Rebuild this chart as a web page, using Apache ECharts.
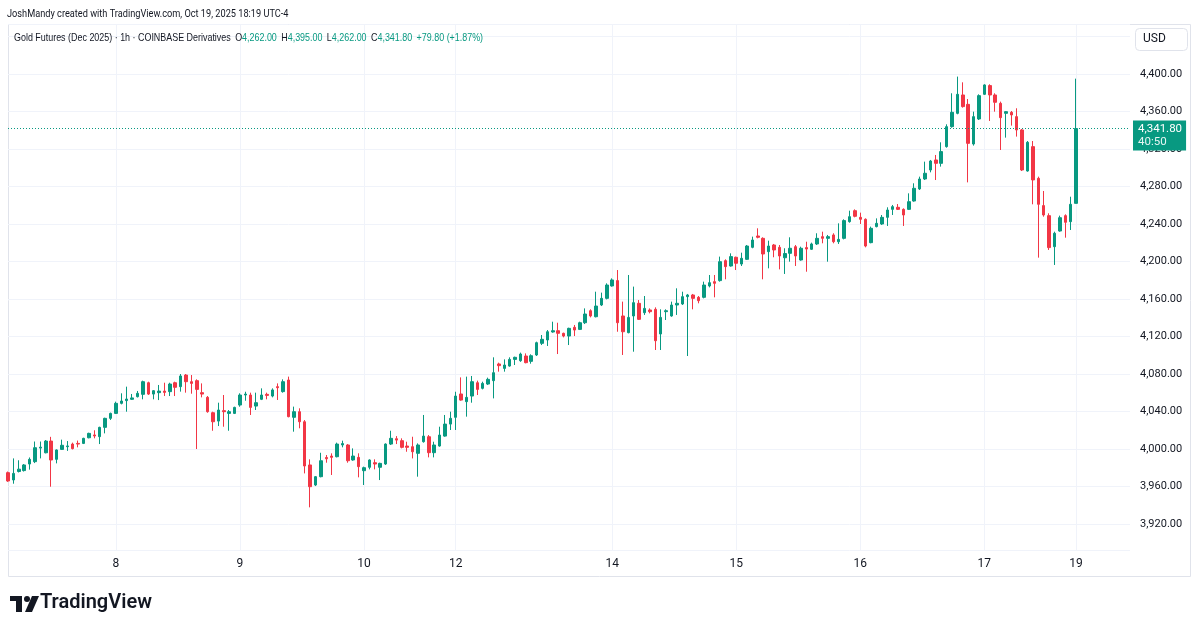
<!DOCTYPE html>
<html><head><meta charset="utf-8">
<script src="https://cdn.jsdelivr.net/npm/echarts@6/dist/echarts.min.js"></script>
<style>html,body{margin:0;padding:0;background:#fff}#c{width:1200px;height:630px}</style>
</head><body><div id="c"></div>
<script>
// ---- data (hourly OHLC, Gold Futures Dec 2025) ----
const opens = [3974.8,3967,3976,3977,3984,3986.5,4001,3996,4008.5,3989,3999.6,4002.5,4005.3,4006,4006,4012,4015,4013.2,4023.1,4032.7,
4038,4048.7,4051.6,4053,4055.8,4058.3,4070.7,4058.6,4060.1,4061.8,4061.2,4070.7,4066.5,4078.9,4071.8,4072.9,4060.1,4055.1,4038.7,4029.8,
4040.9,4038,4038,4046.9,4057.6,4057.6,4045.8,4053,4058.3,4056.5,4066.5,4061.2,4073.6,4033.8,4039.8,4029.1,3983,3961.6,3970.5,3991,
3992.5,3991.8,4004.3,4004.3,3988.3,3991.1,3976.9,3980.5,3985.4,3980.5,3984,4005.3,4011,4008.9,4003.2,4002.5,3995.4,4007.8,4013.1,3996.1,
4003.2,4013.8,4026.6,4033.8,4058.7,4050.5,4056.5,4070.7,4064.7,4069.3,4072.9,4090.7,4086,4088.5,4095.6,4094.2,4099.2,4093.5,4100.3,4112.7,
4116.3,4124.8,4126.2,4123.4,4120.5,4129.8,4127.6,4134.7,4147.5,4141.1,4153.6,4160.7,4173.9,4179.6,4141.9,4124.1,4141.9,4155.4,4145.4,4148.3,
4149,4122.7,4146.5,4141.9,4153.6,4154.7,4162.5,4164.3,4161.8,4161.8,4173.9,4178.5,4179.6,4200.9,4195.2,4204.5,4197.3,4202.3,4215.1,4227.2,
4224.7,4210.5,4217.6,4215.1,4204,4208.7,4215.8,4201.6,4214.8,4213,4218.7,4226.5,4224.7,4228.3,4221.1,4224.7,4242.5,4254.2,4247.1,4245,
4220.1,4237.2,4240,4247.1,4255.6,4257.8,4255.6,4255.6,4264.5,4277.4,4288,4297.6,4308.3,4304.7,4322.5,4343.8,4358,4377.6,4367.6,4325.3,
4352,4378.3,4387.6,4377.6,4368.7,4358,4359.1,4354.5,4340.3,4296.5,4322.5,4288.7,4259.6,4248.9,4215.8,4232.5,4248.9,4242.5,4262];
const highs = [3976,3990,3988,3984,3991,4008,4008,4009.6,4013,3999.6,4010,4008.5,4006.8,4009,4012,4017.4,4020,4023.8,4033.4,4038.8,
4050.5,4059.4,4066.5,4058.7,4061.9,4072.9,4071.8,4062.9,4068.3,4070.7,4070.7,4071.8,4080,4080,4078.9,4074.3,4070,4056.5,4039.8,4049.4,
4057.6,4041.6,4045.1,4059.4,4061.1,4060.1,4060.1,4064.7,4060.1,4064.7,4070,4074.3,4077.2,4045.2,4043.4,4030.9,3989,3971.2,3996,3993.6,
3995.4,4006.8,4008.9,4005.3,4000.7,3995.4,3981.2,3989,3989,3985.4,4006,4019.5,4013.8,4011.4,4007.8,4013.1,4006,4036.3,4014.9,4007.8,
4023.8,4036.3,4039.8,4061.1,4076.4,4077.2,4077.9,4072.9,4071.8,4076.1,4097.8,4092.1,4095.6,4097.8,4098.5,4102.8,4102,4101,4114.5,4121.6,
4126.9,4135.8,4134.7,4124.1,4129.4,4132.3,4135.8,4150,4149,4167.8,4166.8,4176.7,4182,4190.9,4157.2,4185.6,4173.2,4158.9,4163.2,4150,
4151.1,4149,4149,4157.2,4171.4,4167.8,4165.4,4165.4,4163.2,4178.5,4185.6,4185.6,4205.2,4202.3,4208.7,4205.2,4209.4,4217.6,4226.5,4235.4,
4225.8,4222.2,4218.7,4217.6,4214.1,4225.8,4217.6,4215.8,4221.1,4220.1,4230.1,4231.8,4228.3,4230.1,4240.7,4245,4254.2,4255.6,4252.1,4246,
4237.2,4246,4249.6,4257.8,4260.3,4261.3,4256.7,4272.7,4283.4,4290.5,4306.5,4308.3,4313.6,4327.1,4346.3,4379.4,4397.2,4391.1,4373.3,4359.8,
4378.3,4389,4389,4379.4,4370.5,4360.5,4360.5,4363.4,4341.3,4328.5,4328.5,4290.5,4275.2,4251.4,4231.8,4248.9,4250.3,4269.1,4395];
const lows = [3965,3963,3975,3976,3978,3985,3990,3995.4,3959.8,3984.7,3999,3998,3999.6,4001.8,4005.3,4011.4,4011.4,4005.3,4016.7,4031,
4037.3,4047.6,4039.8,4052.3,4055,4053,4057.6,4053,4052.2,4056.5,4056.5,4056.5,4061.2,4060.1,4059,4000,4055.1,4038.7,4019.5,4024.5,
4023.8,4019.5,4037.3,4045.1,4051.5,4036.3,4041.6,4052.2,4053,4055.1,4052.3,4060.1,4033.8,4018.5,4022.1,3974,3937.8,3960.5,3969.8,3985.4,
3972.3,3991.1,4001.8,3985.4,3987.5,3969.8,3961.6,3978.3,3978.3,3966.9,3983,4004.3,4005.3,4000.7,3997.1,3990,3970.5,4006.8,3991.1,3991.1,
4002.5,4013.1,4020.3,4020.3,4051.5,4034.5,4049.4,4057.6,4063.6,4068.3,4054,4082.5,4082.5,4087.8,4089.6,4093,4091.4,4091,4099.2,4110.9,
4109.9,4124.1,4101.3,4119.1,4110.9,4120.5,4126.9,4133.3,4140.4,4140.4,4152.5,4159.6,4173.2,4125.1,4100.3,4123.4,4103.8,4137.6,4143,4144.7,
4105.6,4105.6,4137.6,4141.1,4143,4153.6,4099.2,4149,4155.4,4160.7,4172.4,4161.8,4178.5,4181,4194.5,4190.9,4195.2,4201.6,4214.1,4224.7,
4181,4192.7,4204.5,4191.6,4186.7,4199.8,4195.2,4200.9,4189.1,4212.3,4217.6,4219.4,4199.8,4219.4,4218.7,4223.6,4241.4,4247.1,4240,4215.1,
4219.4,4236.4,4239,4237.9,4249.6,4254.9,4237.9,4254.9,4263.8,4276.3,4286.9,4295.1,4286.9,4301.2,4321.4,4342.7,4357,4364.1,4284.4,4323.6,
4350.9,4377.6,4349.9,4359.8,4318.9,4332.1,4344.9,4333.2,4296.5,4295.8,4261,4204.1,4247.8,4212.3,4196.3,4231.8,4225.4,4233.6,4262];
const closes = [3965.9,3974,3978.5,3983,3989,4001.4,4002,4008.5,3988.3,3999,4004,4003.3,4000.4,4005.3,4011.4,4016.7,4013.9,4023.1,4032.7,4038,
4048.7,4051.2,4053.3,4054.5,4059.4,4071.8,4058.6,4062.2,4061.8,4060.4,4069.3,4065.8,4077.9,4071.8,4070,4063.6,4058.6,4039.8,4029.1,4041.6,
4039.8,4039.8,4044.4,4057.6,4058.6,4044.4,4049.4,4057.6,4057.2,4063,4065.4,4071.8,4034.5,4039.8,4029.1,3981.9,3959.8,3970.5,3987.5,3989.6,
3991.1,4005.3,4005.8,3987.5,3992.5,3981.2,3980.1,3988.3,3984,3984.7,4005.3,4011.4,4009.5,4001.8,4001.8,3997.1,4004.3,4013.8,3996.1,4004.3,
4014.9,4026.6,4032.7,4056.5,4052.2,4055.1,4071.8,4063.6,4070,4074.3,4081.4,4088.9,4089.6,4095.6,4097.8,4101.3,4092.1,4099.5,4113.4,4117,
4125.1,4126.2,4123.4,4120.5,4128.7,4126.9,4134.7,4144,4141.9,4152.5,4160.7,4174.9,4180.3,4134.7,4125.1,4140.4,4156.1,4138.3,4150,4146.5,
4115.5,4140.4,4147.5,4153.6,4155.4,4162.5,4164.3,4160.7,4158.2,4174.9,4177.4,4176.7,4199.8,4194.5,4205.2,4198.1,4203.4,4216.5,4222.9,4225.8,
4208,4216.5,4212.3,4205.9,4208.5,4214.1,4205.9,4214.1,4213.3,4218.7,4224.7,4224.7,4226.5,4221.1,4223.6,4243.6,4247.8,4248.2,4245,4216.5,
4235.4,4240.7,4247.1,4254.9,4258.5,4255.6,4249.6,4263.8,4278.1,4288,4294.1,4307.2,4304.7,4317.2,4343.8,4359.1,4378.3,4365.2,4326,4354.5,
4376.9,4388.3,4377.6,4369.8,4353.4,4359.8,4356.3,4340.3,4297.6,4327.1,4287,4261,4249.6,4214.8,4230.1,4246.7,4241.8,4261,4341.8];

// time-axis ticks (day labels) and price-axis range
const tickTimes  = ['10/8 00:00','10/9 00:00','10/10 00:00','10/12 18:00','10/14 00:00','10/15 00:00','10/16 00:00','10/17 00:00','10/19 18:00'];
const tickLabels = ['8','9','10','12','14','15','16','17','19'];
const priceMin = 3892.3, priceMax = 4453.3, priceStep = 40;
const rightPadBars = 10;
const countdown = '40:50';

const UP = '#089981', DOWN = '#F23645', TXT = '#131722', GRID = '#f0f3fa';

// hourly session bars: closed 17:00-18:00 daily, Fri 17:00 -> Sun 18:00
function buildTimes(n) {
  const out = [];
  let t = Date.UTC(2025, 9, 7, 3);
  while (out.length < n) {
    const d = new Date(t), dow = d.getUTCDay(), h = d.getUTCHours();
    const closed = h === 17 || (dow === 5 && h > 17) || dow === 6 || (dow === 0 && h < 18);
    if (!closed) out.push((d.getUTCMonth() + 1) + '/' + d.getUTCDate() + ' ' + String(h).padStart(2, '0') + ':00');
    t += 3600e3;
  }
  return out;
}
const categories = buildTimes(opens.length + rightPadBars);
const candles = opens.map((o, i) => [o, closes[i], lows[i], highs[i]]);
const isTick = (idx) => tickTimes.indexOf(categories[idx]) >= 0;
const fmt = (v) => v.toLocaleString('en-US', {minimumFractionDigits: 2, maximumFractionDigits: 2});
const last = opens.length - 1;
const chg = closes[last] - opens[last];
const pct = chg / opens[last] * 100;

const FONT = 'Roboto, "Noto Sans", sans-serif';
const chart = echarts.init(document.getElementById('c'), null, {renderer: 'canvas'});
chart.setOption({
  animation: false,
  backgroundColor: '#ffffff',
  textStyle: {fontFamily: FONT},
  grid: {left: 8, right: 70, top: 24, bottom: 80},
  xAxis: {
    type: 'category', data: categories, boundaryGap: false,
    axisLine: {show: false}, axisTick: {show: false},
    axisLabel: {interval: (i) => isTick(i), formatter: (v) => tickLabels[tickTimes.indexOf(v)] || '',
      color: TXT, fontSize: 12, margin: 8, fontFamily: FONT},
    splitLine: {show: true, interval: (i) => isTick(i), lineStyle: {color: GRID, width: 1}}
  },
  yAxis: {
    type: 'value', position: 'right', scale: true,
    min: priceMin, max: priceMax, minInterval: priceStep, maxInterval: priceStep, splitNumber: 14,
    axisLine: {show: false}, axisTick: {show: false},
    axisLabel: {color: TXT, fontSize: 11, margin: 10, showMinLabel: false, showMaxLabel: false,
      formatter: (v) => fmt(v), fontFamily: FONT},
    splitLine: {show: true, lineStyle: {color: GRID, width: 1}}
  },
  series: [{
    type: 'candlestick', data: candles, barWidth: 3, clip: true,
    itemStyle: {color: UP, color0: DOWN, borderColor: UP, borderColor0: DOWN, borderWidth: 1},
    markLine: {
      silent: true, symbol: ['none', 'none'], animation: false,
      lineStyle: {color: UP, type: [1, 2], width: 1},
      data: [{yAxis: closes[last]}],
      label: {
        show: true, position: 'end', distance: 3, offset: [0, 7],
        backgroundColor: UP, padding: [2, 4, 2, 5],
        formatter: () => '{a|' + fmt(closes[last]) + '}\n{b|' + countdown + '}',
        rich: {a: {color: '#fff', fontSize: 11.5, lineHeight: 13, fontFamily: FONT},
               b: {color: '#e6f5f2', fontSize: 11.5, lineHeight: 13, fontFamily: FONT}}
      }
    }
  }],
  graphic: [
    {type: 'rect', silent: true, z: -1, shape: {x: 8.5, y: 24.5, width: 1182, height: 552}, style: {fill: 'none', stroke: '#e0e3eb', lineWidth: 1}},
    {type: 'text', x: 7, y: 8, scaleX: 0.8, silent: true,
      style: {text: 'JoshMandy created with TradingView.com, Oct 19, 2025 18:19 UTC-4', fill: TXT, font: '11.5px ' + FONT}},
    {type: 'text', x: 14, y: 32, scaleX: 0.776, silent: true, z: 10,
      style: {
        text: '{n|Gold Futures (Dec 2025) · 1h · COINBASE Derivatives}  {k|O}{v|' + fmt(opens[last]) + '}  {k|H}{v|' + fmt(highs[last]) +
              '}  {k|L}{v|' + fmt(lows[last]) + '}  {k|C}{v|' + fmt(closes[last]) + '}  {v|' + (chg >= 0 ? '+' : '') + chg.toFixed(2) +
              ' (' + (pct >= 0 ? '+' : '') + pct.toFixed(2) + '%)}',
        font: '11.5px ' + FONT,
        rich: {n: {fill: TXT, fontSize: 11.5}, k: {fill: TXT, fontSize: 11.5}, v: {fill: UP, fontSize: 11.5}}
      }},
    {type: 'rect', silent: true, z: 10, shape: {x: 1135.5, y: 28.5, width: 52, height: 22, r: 4}, style: {fill: '#fff', stroke: '#e0e3eb', lineWidth: 1}},
    {type: 'text', silent: true, z: 11, x: 1143, y: 33, style: {text: 'USD', fill: TXT, font: '12px ' + FONT}},
    {type: 'group', x: 10, y: 596, silent: true, children: [
      {type: 'rect', shape: {x: 0, y: 0, width: 12, height: 5}, style: {fill: '#131722'}},
      {type: 'rect', shape: {x: 6, y: 0, width: 6, height: 16}, style: {fill: '#131722'}},
      {type: 'circle', shape: {cx: 17, cy: 3, r: 3}, style: {fill: '#131722'}},
      {type: 'polygon', shape: {points: [[22, 0], [29, 0], [22, 16], [15, 16]]}, style: {fill: '#131722'}},
      {type: 'text', x: 30, y: -3, style: {text: 'TradingView', fill: '#131722', font: '600 20px ' + FONT}}
    ]}
  ]
});
</script></body></html>
